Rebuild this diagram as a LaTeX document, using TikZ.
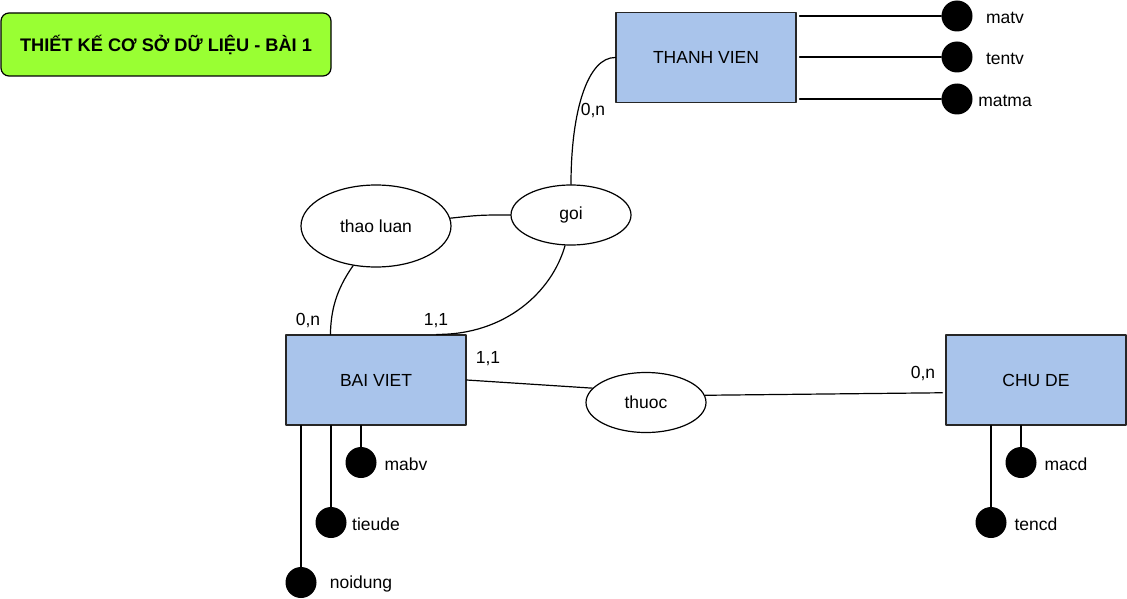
\documentclass[tikz,border=0pt]{standalone}
\usepackage{fontspec}
\setmainfont{Liberation Sans}
\usetikzlibrary{shapes.geometric}
\definecolor{entityblue}{HTML}{A9C4EB}
\definecolor{titlegreen}{HTML}{99FF33}

\begin{document}
\begin{tikzpicture}[line cap=round,line join=round,x=1pt,y=-1pt,
		font=\fontsize{17.5}{21}\selectfont,
		entity/.style={draw=black!85,line width=1.2pt,fill=entityblue,minimum width=180pt,minimum height=90pt,inner sep=0pt},
		relation/.style={ellipse,draw,line width=1.2pt,minimum width=120pt,minimum height=60pt,inner sep=0pt},
		attr/.style={circle,fill=black,minimum size=31pt,inner sep=0pt},
		link/.style={line width=1.2pt}]
		\useasboundingbox (0,0) rectangle (1127,599);
		%%%%%%%%%%%%%%% T I T L E %%%%%%%%%%%%%%%%
		\node (title) [draw,line width=1.2pt,fill=titlegreen,rounded corners=8pt,minimum width=330pt,minimum height=63pt,font=\fontsize{18.2}{21}\selectfont\bfseries] at (166,44.5) {THIẾT KẾ CƠ SỞ DỮ LIỆU - BÀI 1};
		%%%%%%%%%%%%%%% E N T I T I E S %%%%%%%%%%%%%%%%
		\node (tv) [entity] at (706,57.5) {THANH VIEN};
		\node (bv) [entity] at (376,380) {BAI VIET};
		\node (cd) [entity] at (1036,380) {CHU DE};
		%%%%%%%%%%%%%%% R E L A T I O N S %%%%%%%%%%%%%%%%
		\node (goi) [relation] at (571,215) {goi};
		\node (tl) [relation,minimum width=150pt,minimum height=82pt] at (376,226) {thao luan};
		\node (thuoc) [relation] at (646,402.5) {thuoc};
		%%%%%%%%%%%%%%% A T T R I B U T E S %%%%%%%%%%%%%%%%
		%thanh vien
		\node (matv) [attr] at (957,16) {};
		\node (tentv) [attr] at (957,57) {};
		\node (matma) [attr] at (957,99) {};
		%bai viet
		\node (mabv) [attr] at (361,462.5) {};
		\node (tieude) [attr] at (331,522.5) {};
		\node (noidung) [attr] at (301,582.5) {};
		%chu de
		\node (macd) [attr] at (1021,462.5) {};
		\node (tencd) [attr] at (991,522.5) {};
		%%%%%%%%%%%%%%% L I N K S %%%%%%%%%%%%%%%%
		\draw [link] (tv.west) .. controls (588,57) and (571,110) .. (goi.north);
		\draw [link] (tl.6) .. controls (480,215) .. (goi.west);
		\draw [link] (tl.240) .. controls (336,290) and (331,310) .. (bv.135);
		\draw [link] (goi.259) .. controls (552,292) and (505,335) .. (bv.37);
		\draw [link] (bv.east) -- (thuoc.165);
		\draw [link,shorten >=3pt] (thuoc.7) -- (cd.188);
		%attribute links
		\draw [link,shorten <=3pt] (tv.east |- matv) -- (matv);
		\draw [link,shorten <=3pt] (tv.east |- tentv) -- (tentv);
		\draw [link,shorten <=3pt] (tv.east |- matma) -- (matma);
		\draw [link] (bv.south -| mabv) -- (mabv);
		\draw [link] (bv.south -| tieude) -- (tieude);
		\draw [link] (bv.south -| noidung) -- (noidung);
		\draw [link] (cd.south -| macd) -- (macd);
		\draw [link] (cd.south -| tencd) -- (tencd);
		%%%%%%%%%%%%%%% T A G S %%%%%%%%%%%%%%%%
		\node (matvtag) at (1005,18) {matv};
		\node (tentvtag) at (1005,59) {tentv};
		\node (matmatag) at (1005,101) {matma};
		\node (mabvtag) at (406,464) {mabv};
		\node (tieudetag) at (376,524) {tieude};
		\node (noidungtag) at (361,584) {noidung};
		\node (macdtag) at (1066,464) {macd};
		\node (tencdtag) at (1036,524) {tencd};
		%cardinalities
		\node (cardtv) at (593,111) {0,n};
		\node (cardtl) at (308,321) {0,n};
		\node (cardgoi) at (436,321) {1,1};
		\node (cardbv) at (488,359) {1,1};
		\node (cardcd) at (923,374) {0,n};
\end{tikzpicture}
\end{document}
